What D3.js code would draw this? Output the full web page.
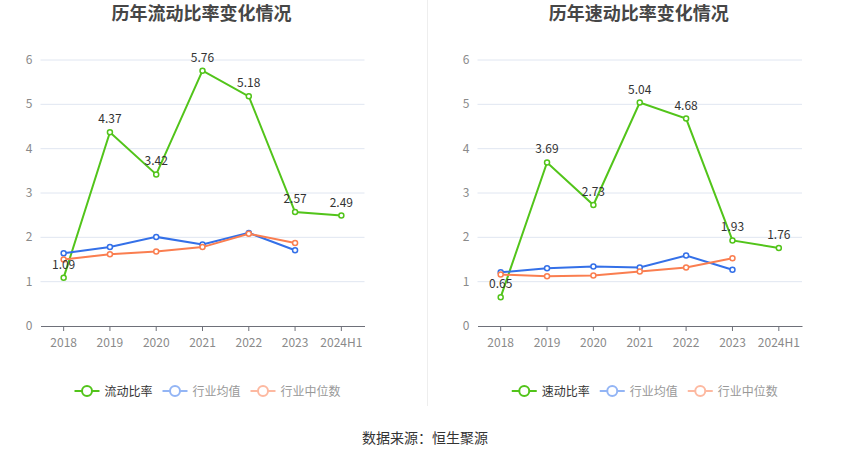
<!DOCTYPE html>
<html>
<head>
<meta charset="utf-8">
<script src="https://cdn.jsdelivr.net/npm/d3@7"></script>
<style>
  body { margin: 0; background: #fff; }
  svg { font-family: "Noto Sans CJK SC", "Noto Sans", sans-serif; }
</style>
</head>
<body>
<svg id="chart" width="850" height="459"></svg>
<script>
const years = ["2018", "2019", "2020", "2021", "2022", "2023", "2024H1"];
const yTicks = [0, 1, 2, 3, 4, 5, 6];

const currentRatio = [1.09, 4.37, 3.42, 5.76, 5.18, 2.57, 2.49];
const currentMean = [1.64, 1.78, 2.01, 1.84, 2.10, 1.71];
const currentMedian = [1.50, 1.62, 1.68, 1.78, 2.08, 1.87];

const quickRatio = [0.65, 3.69, 2.73, 5.04, 4.68, 1.93, 1.76];
const quickMean = [1.21, 1.30, 1.34, 1.32, 1.59, 1.27];
const quickMedian = [1.16, 1.12, 1.14, 1.23, 1.32, 1.53];

const colors = { main: "#52c41a", mean: "#3470e8", median: "#fa7e50" };
const legendColors = { main: "#52c41a", mean: "#93b5f5", median: "#fdb9a1" };

const svg = d3.select("#chart");

function drawChart(left, right, title, mainName, main, mean, median) {
    const g = svg.append("g");
    const x = d3.scaleBand().domain(years).range([left, right]);
    const y = d3.scaleLinear().domain([0, 6]).range([326, 60]);
    const cx = d => x(d) + x.bandwidth() / 2;

    // title
    g.append("text")
        .attr("x", (left + right) / 2 - 1)
        .attr("y", 20)
        .attr("text-anchor", "middle")
        .attr("font-size", 18)
        .attr("font-weight", "bold")
        .attr("fill", "#464646")
        .text(title);

    // grid
    g.selectAll(".grid")
        .data(yTicks.filter(t => t > 0))
        .join("line")
        .attr("x1", left).attr("x2", right)
        .attr("y1", d => y(d)).attr("y2", d => y(d))
        .attr("stroke", "#e0e6f1");

    // y labels
    g.selectAll(".ylab")
        .data(yTicks)
        .join("text")
        .attr("x", left - 8)
        .attr("y", d => y(d) + 4)
        .attr("text-anchor", "end")
        .attr("font-size", 12)
        .attr("fill", "#8a8a8a")
        .text(d => d);

    // x axis
    const xAxis = g.append("g")
        .attr("transform", `translate(0, 326)`)
        .call(d3.axisBottom(x).tickSize(5).tickSizeOuter(0));
    xAxis.select(".domain").attr("stroke", "#6e7079");
    xAxis.selectAll(".tick line").attr("stroke", "#6e7079");
    xAxis.selectAll(".tick text")
        .attr("font-size", 12)
        .attr("fill", "#8a8a8a")
        .attr("dy", "1.1em")
        .style("font-family", "'Noto Sans CJK SC', sans-serif");

    const line = d3.line().x((d, i) => cx(years[i])).y(d => y(d));

    function series(vals, color) {
        g.append("path")
            .datum(vals)
            .attr("d", line)
            .attr("fill", "none")
            .attr("stroke", color)
            .attr("stroke-width", 2);
        g.selectAll(null)
            .data(vals)
            .join("circle")
            .attr("cx", (d, i) => cx(years[i]))
            .attr("cy", d => y(d))
            .attr("r", 2.5)
            .attr("fill", "#fff")
            .attr("stroke", color)
            .attr("stroke-width", 1.5);
    }

    series(main, colors.main);
    series(mean, colors.mean);
    series(median, colors.median);

    // data labels
    g.selectAll(".lab")
        .data(main)
        .join("text")
        .attr("x", (d, i) => cx(years[i]))
        .attr("y", d => y(d) - 9)
        .attr("text-anchor", "middle")
        .attr("font-size", 12)
        .attr("fill", "#333")
        .text(d => d.toFixed(2));

    // legend
    const items = [
        { name: mainName, color: legendColors.main, text: "#333" },
        { name: "行业均值", color: legendColors.mean, text: "#999" },
        { name: "行业中位数", color: legendColors.median, text: "#999" }
    ];
    const widths = items.map(d => 25 + 5 + d.name.length * 12);
    const gap = 10;
    const total = d3.sum(widths) + gap * (items.length - 1);
    let lx = (left + right) / 2 - total / 2 + 5;
    const ly = 391;
    items.forEach((d, i) => {
        const lg = g.append("g").attr("transform", `translate(${lx}, ${ly})`);
        lg.append("line")
            .attr("x1", 0).attr("x2", 25)
            .attr("stroke", d.color).attr("stroke-width", 2);
        lg.append("circle")
            .attr("cx", 12.5).attr("r", 5)
            .attr("fill", "#fff")
            .attr("stroke", d.color).attr("stroke-width", 2);
        lg.append("text")
            .attr("x", 30).attr("y", 4.5)
            .attr("font-size", 12)
            .attr("fill", d.text)
            .text(d.name);
        lx += widths[i] + gap;
    });
}

drawChart(40.5, 364.5, "历年流动比率变化情况", "流动比率", currentRatio, currentMean, currentMedian);
drawChart(477.5, 802, "历年速动比率变化情况", "速动比率", quickRatio, quickMean, quickMedian);

// divider
svg.append("line")
    .attr("x1", 427.5).attr("x2", 427.5)
    .attr("y1", 0).attr("y2", 406)
    .attr("stroke", "#eeeeee");

// source
svg.append("text")
    .attr("x", 425)
    .attr("y", 443)
    .attr("text-anchor", "middle")
    .attr("font-size", 14)
    .attr("fill", "#333")
    .text("数据来源：恒生聚源");
</script>
</body>
</html>
